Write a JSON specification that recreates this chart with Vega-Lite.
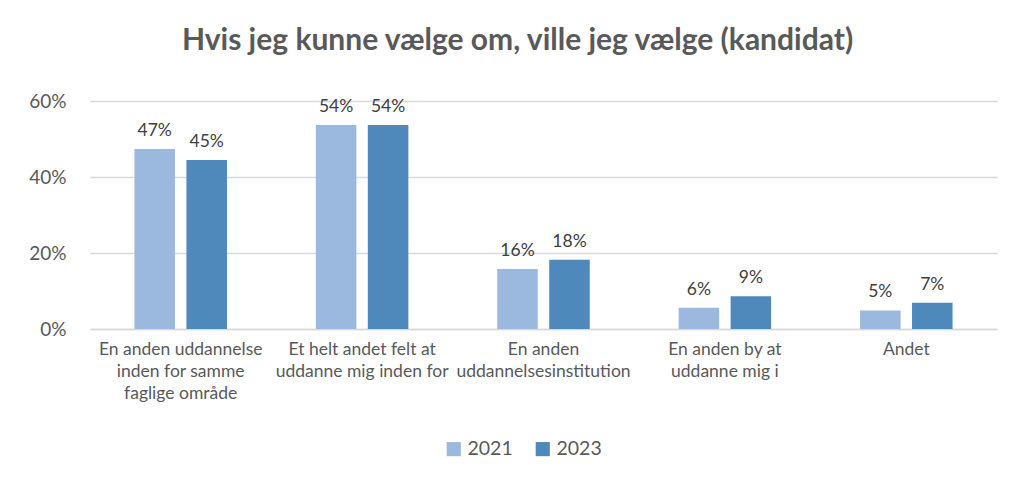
{
  "$schema": "https://vega.github.io/schema/vega-lite/v6.json",
  "autosize": {"type": "none"},
  "width": 907,
  "height": 228,
  "padding": {"left": 90, "top": 101, "right": 19, "bottom": 153},
  "background": "white",
  "title": {
    "text": "Hvis jeg kunne vælge om, ville jeg vælge (kandidat)",
    "font": "Lato",
    "fontSize": 30,
    "fontWeight": "bold",
    "color": "#595959",
    "anchor": "middle",
    "dx": -26,
    "offset": 36
  },
  "data": {
    "values": [
      {"kategori": "En anden uddannelse|inden for samme|faglige område", "år": "2021", "andel": 0.474},
      {"kategori": "En anden uddannelse|inden for samme|faglige område", "år": "2023", "andel": 0.445},
      {"kategori": "Et helt andet felt at|uddanne mig inden for", "år": "2021", "andel": 0.537},
      {"kategori": "Et helt andet felt at|uddanne mig inden for", "år": "2023", "andel": 0.537},
      {"kategori": "En anden|uddannelsesinstitution", "år": "2021", "andel": 0.158},
      {"kategori": "En anden|uddannelsesinstitution", "år": "2023", "andel": 0.182},
      {"kategori": "En anden by at|uddanne mig i", "år": "2021", "andel": 0.056},
      {"kategori": "En anden by at|uddanne mig i", "år": "2023", "andel": 0.086},
      {"kategori": "Andet", "år": "2021", "andel": 0.049},
      {"kategori": "Andet", "år": "2023", "andel": 0.069}
    ]
  },
  "encoding": {
    "x": {
      "field": "kategori",
      "type": "nominal",
      "sort": null,
      "scale": {"paddingInner": 0.49, "paddingOuter": 0.245},
      "axis": {
        "title": null,
        "labelAngle": 0,
        "labelExpr": "split(datum.label, '|')",
        "labelFont": "Lato",
        "labelFontSize": 17.5,
        "labelColor": "#595959",
        "labelLineHeight": 22,
        "labelPadding": 11,
        "labelBaseline": "top",
        "ticks": false,
        "domain": true,
        "domainColor": "#d9d9d9",
        "domainWidth": 1.5,
        "labelLimit": 300
      }
    },
    "xOffset": {
      "field": "år",
      "type": "nominal",
      "scale": {"paddingInner": 0.22, "paddingOuter": 0}
    },
    "y": {
      "field": "andel",
      "type": "quantitative",
      "scale": {"domain": [0, 0.6]},
      "axis": {
        "title": null,
        "format": ".0%",
        "values": [0, 0.2, 0.4, 0.6],
        "labelFont": "Lato",
        "labelFontSize": 19,
        "labelColor": "#595959",
        "labelPadding": 24,
        "ticks": false,
        "domain": false,
        "gridColor": "#d9d9d9",
        "gridWidth": 1.5
      }
    }
  },
  "layer": [
    {
      "mark": {"type": "bar"},
      "encoding": {
        "color": {
          "field": "år",
          "type": "nominal",
          "scale": {"domain": ["2021", "2023"], "range": ["#9bb9df", "#4f89bc"]},
          "legend": {
            "title": null,
            "orient": "none",
            "direction": "horizontal",
            "legendX": 354,
            "legendY": 338,
            "symbolType": "square",
            "symbolSize": 200,
            "symbolStrokeWidth": 0,
            "labelFont": "Lato",
            "labelFontSize": 19.5,
            "labelColor": "#595959",
            "columnPadding": 20,
            "labelOffset": 4
          }
        }
      }
    },
    {
      "mark": {"type": "text", "baseline": "bottom", "dy": -9, "font": "Lato", "fontSize": 17.5, "color": "#404040"},
      "encoding": {
        "text": {"field": "andel", "type": "quantitative", "format": ".0%"}
      }
    }
  ],
  "config": {"view": {"stroke": null}}
}
